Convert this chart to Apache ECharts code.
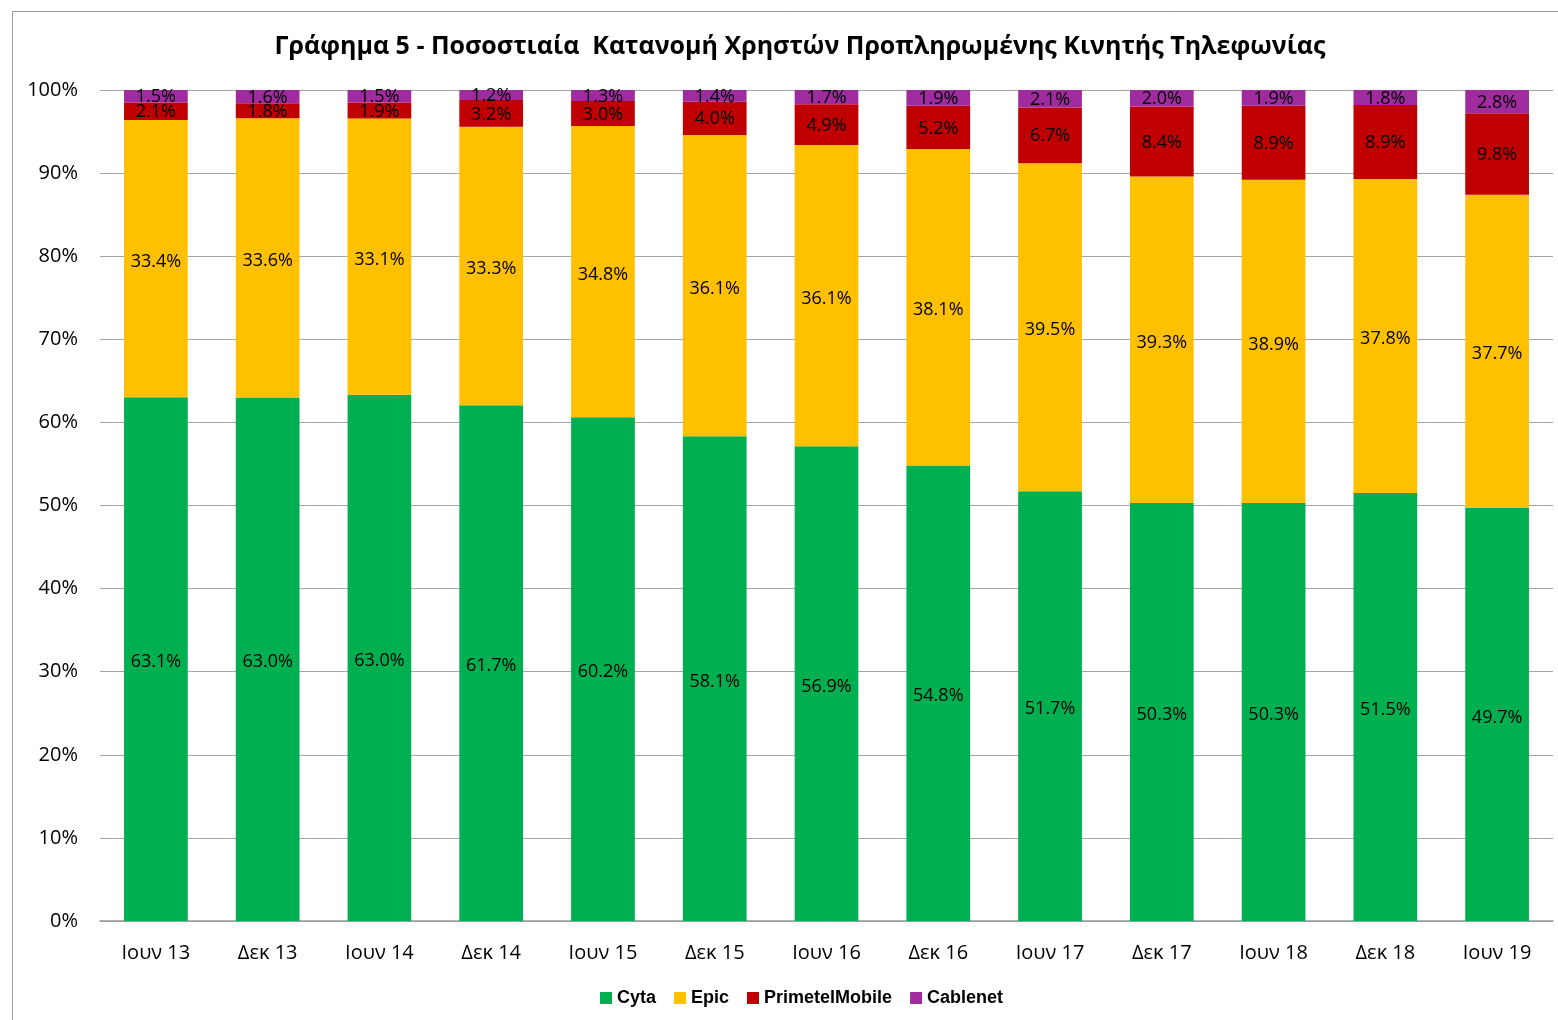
<!DOCTYPE html>
<html>
<head>
<meta charset="utf-8">
<script src="https://cdn.jsdelivr.net/npm/echarts@6/dist/echarts.min.js"></script>
<style>
html,body{margin:0;padding:0;background:#fff;}
#chart{width:1558px;height:1020px;}
</style>
</head>
<body>
<div id="chart"></div>
<script>
const categories = ['Ιουν 13','Δεκ 13','Ιουν 14','Δεκ 14','Ιουν 15','Δεκ 15','Ιουν 16','Δεκ 16','Ιουν 17','Δεκ 17','Ιουν 18','Δεκ 18','Ιουν 19'];
const cyta     = [63.1, 63.0, 63.0, 61.7, 60.2, 58.1, 56.9, 54.8, 51.7, 50.3, 50.3, 51.5, 49.7];
const epic     = [33.4, 33.6, 33.1, 33.3, 34.8, 36.1, 36.1, 38.1, 39.5, 39.3, 38.9, 37.8, 37.7];
const primetel = [2.1, 1.8, 1.9, 3.2, 3.0, 4.0, 4.9, 5.2, 6.7, 8.4, 8.9, 8.9, 9.8];
const cablenet = [1.5, 1.6, 1.5, 1.2, 1.3, 1.4, 1.7, 1.9, 2.1, 2.0, 1.9, 1.8, 2.8];
const seriesNames = ['Cyta','Epic','PrimetelMobile','Cablenet'];
const yTicks = [0,10,20,30,40,50,60,70,80,90,100];

const raw = [cyta, epic, primetel, cablenet];
const colors = ['#00B050','#FFC000','#C00000','#A02B9F'];
const totals = categories.map((c,i)=> raw.reduce((s,a)=>s+a[i],0));

const font = '"Open Sans", sans-serif';
const chart = echarts.init(document.getElementById('chart'));
chart.setOption({
  animation:false,
  title:{
    text:'Γράφημα 5 - Ποσοστιαία  Κατανομή Χρηστών Προπληρωμένης Κινητής Τηλεφωνίας',
    left:795, top:29, textAlign:'center',
    textStyle:{fontFamily:font, fontWeight:'bold', fontSize:25, color:'#000'}
  },
  graphic:[{type:'rect', shape:{x:12.5,y:11.5,width:1600,height:1100}, style:{fill:'none',stroke:'#9a9a9a',lineWidth:1}, silent:true, z:-1}],
  legend:{
    bottom:8, left:595,
    itemWidth:12, itemHeight:12, itemGap:18,
    icon:'rect',
    textStyle:{fontFamily:'"Liberation Sans", Arial, sans-serif', fontWeight:'bold', fontSize:18, color:'#000'},
    data:seriesNames
  },
  grid:{left:100, right:5, top:90, bottom:99},
  xAxis:{
    type:'category', data:categories,
    axisLine:{lineStyle:{color:'#999',width:1.5}},
    axisTick:{show:false},
    axisLabel:{fontFamily:font, fontSize:20, color:'#000', margin:22}
  },
  yAxis:{
    type:'value', min:0, max:100, interval:10,
    axisLine:{show:false}, axisTick:{show:false},
    splitLine:{lineStyle:{color:'#a6a6a6',width:1}},
    axisLabel:{fontFamily:font, fontSize:20, color:'#000', margin:22,
      formatter:v=> yTicks.includes(v) ? v+'%' : ''}
  },
  series: raw.map((arr,k)=>({
    name:seriesNames[k], type:'bar', stack:'total', barWidth:'57%',
    itemStyle:{color:colors[k]},
    data: arr.map((v,i)=>({value: v/totals[i]*100, raw:v})),
    label:{show:true, position:'inside', fontFamily:font, fontSize:18, color:'#000',
      offset: k < 2 ? [0,3] : [0,1],
      formatter:p=> p.data.raw.toFixed(1)+'%'}
  }))
});
</script>
</body>
</html>
